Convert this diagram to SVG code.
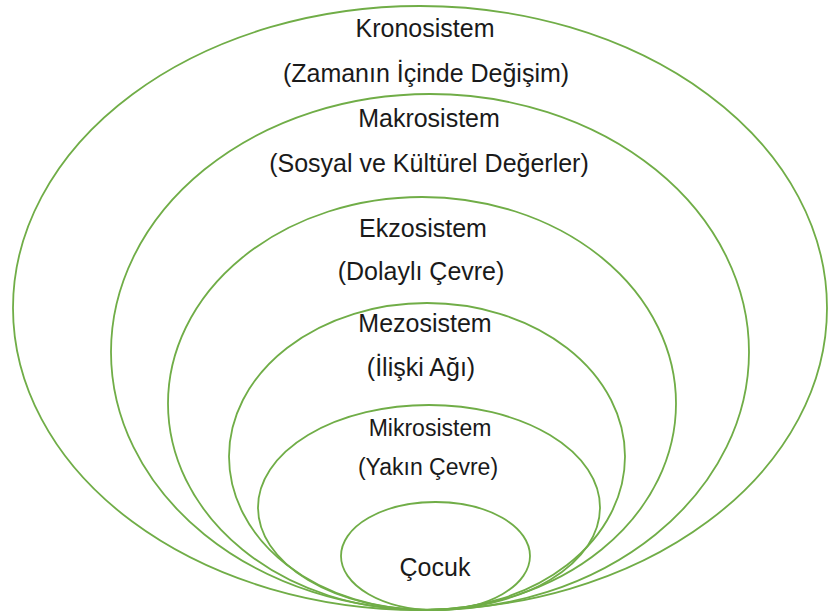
<svg xmlns="http://www.w3.org/2000/svg" width="828" height="615" viewBox="0 0 828 615">
<style>
.ring{fill:none;stroke:#70AD47;stroke-width:1.8}
.t{font-family:"Liberation Sans",Arial,sans-serif;font-size:25px;fill:#1a1a1a;text-anchor:middle}
.s{font-size:23px}
</style>
<rect width="828" height="615" fill="#ffffff"/>
<g id="kronosistem">
<ellipse class="ring" cx="420" cy="308" rx="407" ry="302"/>
<text class="t" x="425" y="37">Kronosistem</text>
<text class="t" x="426" y="82">(Zamanın İçinde Değişim)</text>
</g>
<g id="makrosistem">
<ellipse class="ring" cx="430" cy="352" rx="319" ry="258"/>
<text class="t" x="429" y="127">Makrosistem</text>
<text class="t" x="429" y="172">(Sosyal ve Kültürel Değerler)</text>
</g>
<g id="ekzosistem">
<ellipse class="ring" cx="422" cy="403.5" rx="254" ry="206.5"/>
<text class="t" x="423" y="237">Ekzosistem</text>
<text class="t" x="421" y="280">(Dolaylı Çevre)</text>
</g>
<g id="mezosistem">
<ellipse class="ring" cx="427" cy="456.5" rx="198" ry="153.5"/>
<text class="t" x="425" y="332">Mezosistem</text>
<text class="t" x="421" y="376">(İlişki Ağı)</text>
</g>
<g id="mikrosistem">
<ellipse class="ring" cx="429" cy="507.5" rx="171" ry="102.5"/>
<text class="t s" x="430" y="436">Mikrosistem</text>
<text class="t s" x="428" y="475">(Yakın Çevre)</text>
</g>
<g id="cocuk">
<ellipse class="ring" cx="435.5" cy="556" rx="94.5" ry="54"/>
<text class="t" x="435" y="576">Çocuk</text>
</g>
<g id="connectors"/>
</svg>
